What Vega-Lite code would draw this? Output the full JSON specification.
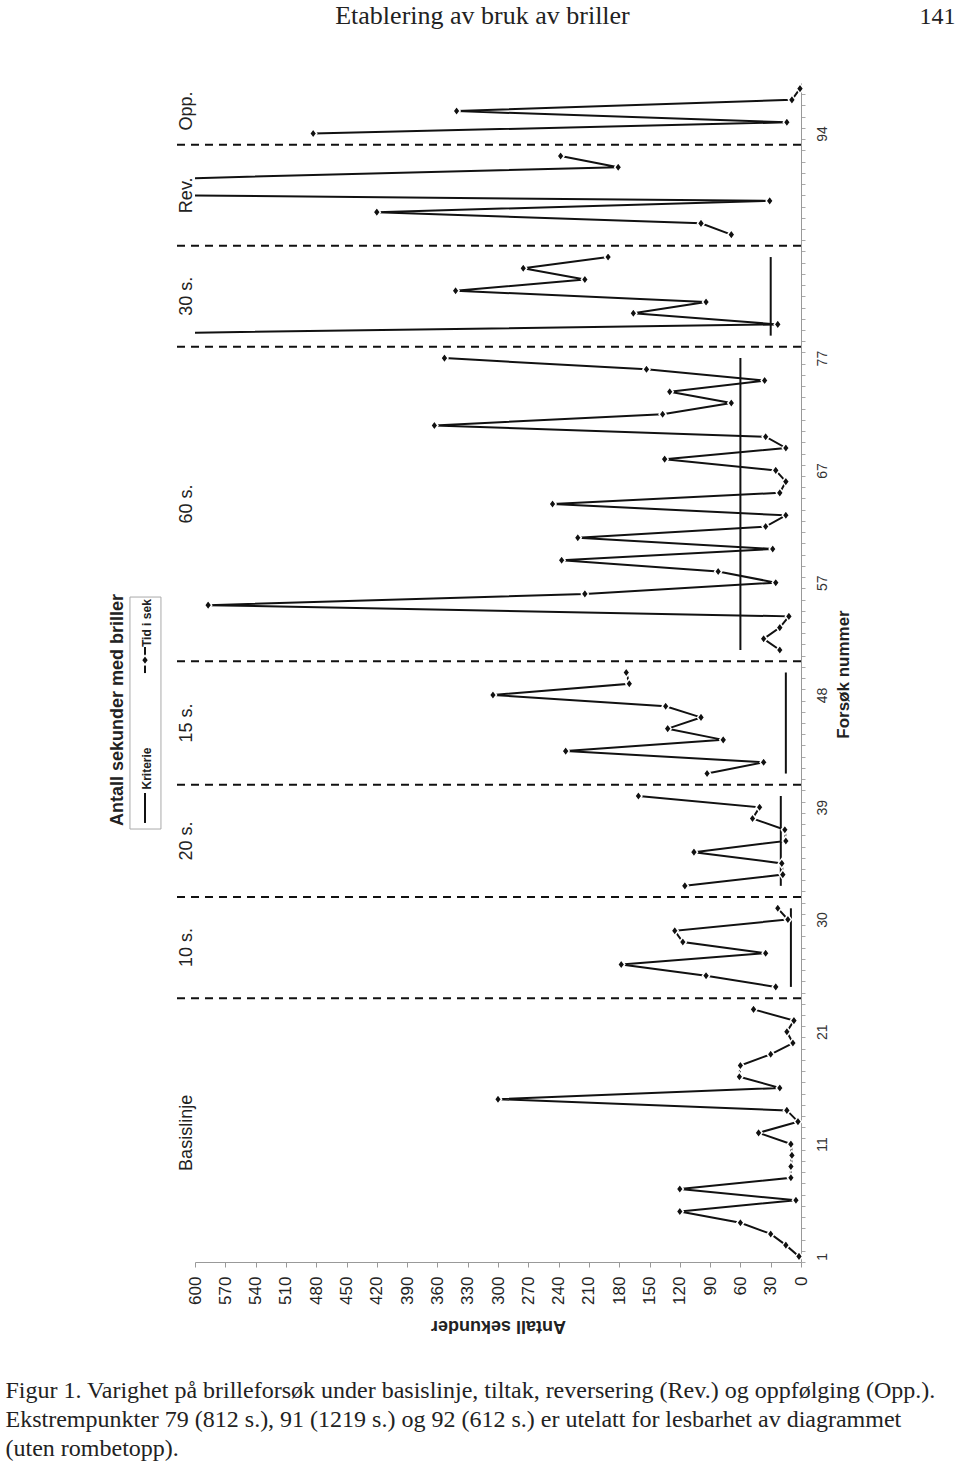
{
  "$schema": "https://vega.github.io/schema/vega-lite/v6.json",
  "width": 606,
  "height": 1179,
  "autosize": {"type": "none"},
  "padding": {"left": 195, "top": 83, "right": 159, "bottom": 207},
  "background": "white",
  "config": {"view": {"stroke": null}, "font": "Liberation Sans", "axis": {"grid": false}},
  "datasets": {
    "forsok": [
      {"kategori": 1, "fase": "Basislinje", "sek": 2, "kriterie": null},
      {"kategori": 2, "fase": "Basislinje", "sek": 15, "kriterie": null},
      {"kategori": 3, "fase": "Basislinje", "sek": 30, "kriterie": null},
      {"kategori": 4, "fase": "Basislinje", "sek": 60, "kriterie": null},
      {"kategori": 5, "fase": "Basislinje", "sek": 120, "kriterie": null},
      {"kategori": 6, "fase": "Basislinje", "sek": 5, "kriterie": null},
      {"kategori": 7, "fase": "Basislinje", "sek": 120, "kriterie": null},
      {"kategori": 8, "fase": "Basislinje", "sek": 10, "kriterie": null},
      {"kategori": 9, "fase": "Basislinje", "sek": 10, "kriterie": null},
      {"kategori": 10, "fase": "Basislinje", "sek": 9, "kriterie": null},
      {"kategori": 11, "fase": "Basislinje", "sek": 10, "kriterie": null},
      {"kategori": 12, "fase": "Basislinje", "sek": 42, "kriterie": null},
      {"kategori": 13, "fase": "Basislinje", "sek": 3, "kriterie": null},
      {"kategori": 14, "fase": "Basislinje", "sek": 14, "kriterie": null},
      {"kategori": 15, "fase": "Basislinje", "sek": 300, "kriterie": null},
      {"kategori": 16, "fase": "Basislinje", "sek": 21, "kriterie": null},
      {"kategori": 17, "fase": "Basislinje", "sek": 61, "kriterie": null},
      {"kategori": 18, "fase": "Basislinje", "sek": 60, "kriterie": null},
      {"kategori": 19, "fase": "Basislinje", "sek": 30, "kriterie": null},
      {"kategori": 20, "fase": "Basislinje", "sek": 8, "kriterie": null},
      {"kategori": 21, "fase": "Basislinje", "sek": 14, "kriterie": null},
      {"kategori": 22, "fase": "Basislinje", "sek": 7, "kriterie": null},
      {"kategori": 23, "fase": "Basislinje", "sek": 47, "kriterie": null},
      {"kategori": 25, "fase": "10 s.", "sek": 25, "kriterie": 10},
      {"kategori": 26, "fase": "10 s.", "sek": 94, "kriterie": 10},
      {"kategori": 27, "fase": "10 s.", "sek": 178, "kriterie": 10},
      {"kategori": 28, "fase": "10 s.", "sek": 35, "kriterie": 10},
      {"kategori": 29, "fase": "10 s.", "sek": 117, "kriterie": 10},
      {"kategori": 30, "fase": "10 s.", "sek": 125, "kriterie": 10},
      {"kategori": 31, "fase": "10 s.", "sek": 13, "kriterie": 10},
      {"kategori": 32, "fase": "10 s.", "sek": 23, "kriterie": 10},
      {"kategori": 34, "fase": "20 s.", "sek": 115, "kriterie": 20},
      {"kategori": 35, "fase": "20 s.", "sek": 18, "kriterie": 20},
      {"kategori": 36, "fase": "20 s.", "sek": 19, "kriterie": 20},
      {"kategori": 37, "fase": "20 s.", "sek": 106, "kriterie": 20},
      {"kategori": 38, "fase": "20 s.", "sek": 15, "kriterie": 20},
      {"kategori": 39, "fase": "20 s.", "sek": 16, "kriterie": 20},
      {"kategori": 40, "fase": "20 s.", "sek": 48, "kriterie": 20},
      {"kategori": 41, "fase": "20 s.", "sek": 41, "kriterie": 20},
      {"kategori": 42, "fase": "20 s.", "sek": 161, "kriterie": 20},
      {"kategori": 44, "fase": "15 s.", "sek": 93, "kriterie": 15},
      {"kategori": 45, "fase": "15 s.", "sek": 37, "kriterie": 15},
      {"kategori": 46, "fase": "15 s.", "sek": 233, "kriterie": 15},
      {"kategori": 47, "fase": "15 s.", "sek": 77, "kriterie": 15},
      {"kategori": 48, "fase": "15 s.", "sek": 132, "kriterie": 15},
      {"kategori": 49, "fase": "15 s.", "sek": 99, "kriterie": 15},
      {"kategori": 50, "fase": "15 s.", "sek": 134, "kriterie": 15},
      {"kategori": 51, "fase": "15 s.", "sek": 305, "kriterie": 15},
      {"kategori": 52, "fase": "15 s.", "sek": 170, "kriterie": 15},
      {"kategori": 53, "fase": "15 s.", "sek": 173, "kriterie": 15},
      {"kategori": 55, "fase": "60 s.", "sek": 21, "kriterie": 60},
      {"kategori": 56, "fase": "60 s.", "sek": 37, "kriterie": 60},
      {"kategori": 57, "fase": "60 s.", "sek": 21, "kriterie": 60},
      {"kategori": 58, "fase": "60 s.", "sek": 12, "kriterie": 60},
      {"kategori": 59, "fase": "60 s.", "sek": 587, "kriterie": 60},
      {"kategori": 60, "fase": "60 s.", "sek": 214, "kriterie": 60},
      {"kategori": 61, "fase": "60 s.", "sek": 25, "kriterie": 60},
      {"kategori": 62, "fase": "60 s.", "sek": 82, "kriterie": 60},
      {"kategori": 63, "fase": "60 s.", "sek": 237, "kriterie": 60},
      {"kategori": 64, "fase": "60 s.", "sek": 28, "kriterie": 60},
      {"kategori": 65, "fase": "60 s.", "sek": 221, "kriterie": 60},
      {"kategori": 66, "fase": "60 s.", "sek": 35, "kriterie": 60},
      {"kategori": 67, "fase": "60 s.", "sek": 15, "kriterie": 60},
      {"kategori": 68, "fase": "60 s.", "sek": 246, "kriterie": 60},
      {"kategori": 69, "fase": "60 s.", "sek": 21, "kriterie": 60},
      {"kategori": 70, "fase": "60 s.", "sek": 15, "kriterie": 60},
      {"kategori": 71, "fase": "60 s.", "sek": 25, "kriterie": 60},
      {"kategori": 72, "fase": "60 s.", "sek": 135, "kriterie": 60},
      {"kategori": 73, "fase": "60 s.", "sek": 15, "kriterie": 60},
      {"kategori": 74, "fase": "60 s.", "sek": 35, "kriterie": 60},
      {"kategori": 75, "fase": "60 s.", "sek": 363, "kriterie": 60},
      {"kategori": 76, "fase": "60 s.", "sek": 137, "kriterie": 60},
      {"kategori": 77, "fase": "60 s.", "sek": 69, "kriterie": 60},
      {"kategori": 78, "fase": "60 s.", "sek": 130, "kriterie": 60},
      {"kategori": 79, "fase": "60 s.", "sek": 36, "kriterie": 60},
      {"kategori": 80, "fase": "60 s.", "sek": 153, "kriterie": 60},
      {"kategori": 81, "fase": "60 s.", "sek": 353, "kriterie": 60},
      {"kategori": 83, "fase": "30 s.", "sek": 812, "kriterie": 30},
      {"kategori": 84, "fase": "30 s.", "sek": 23, "kriterie": 30},
      {"kategori": 85, "fase": "30 s.", "sek": 166, "kriterie": 30},
      {"kategori": 86, "fase": "30 s.", "sek": 94, "kriterie": 30},
      {"kategori": 87, "fase": "30 s.", "sek": 342, "kriterie": 30},
      {"kategori": 88, "fase": "30 s.", "sek": 214, "kriterie": 30},
      {"kategori": 89, "fase": "30 s.", "sek": 275, "kriterie": 30},
      {"kategori": 90, "fase": "30 s.", "sek": 191, "kriterie": 30},
      {"kategori": 92, "fase": "Rev.", "sek": 69, "kriterie": null},
      {"kategori": 93, "fase": "Rev.", "sek": 99, "kriterie": null},
      {"kategori": 94, "fase": "Rev.", "sek": 420, "kriterie": null},
      {"kategori": 95, "fase": "Rev.", "sek": 31, "kriterie": null},
      {"kategori": 96, "fase": "Rev.", "sek": 1219, "kriterie": null},
      {"kategori": 97, "fase": "Rev.", "sek": 612, "kriterie": null},
      {"kategori": 98, "fase": "Rev.", "sek": 181, "kriterie": null},
      {"kategori": 99, "fase": "Rev.", "sek": 238, "kriterie": null},
      {"kategori": 101, "fase": "Opp.", "sek": 483, "kriterie": null},
      {"kategori": 102, "fase": "Opp.", "sek": 14, "kriterie": null},
      {"kategori": 103, "fase": "Opp.", "sek": 341, "kriterie": null},
      {"kategori": 104, "fase": "Opp.", "sek": 9, "kriterie": null},
      {"kategori": 105, "fase": "Opp.", "sek": 1, "kriterie": null}
    ],
    "skifter": [
      {"kategori": 24}, {"kategori": 33}, {"kategori": 43}, {"kategori": 54},
      {"kategori": 82}, {"kategori": 91}, {"kategori": 100}
    ]
  },
  "data": {"name": "forsok"},
  "resolve": {"axis": {"x": "independent", "y": "independent"}},
  "layer": [
    {
      "data": {"name": "skifter"},
      "mark": {"type": "rule", "color": "#111", "strokeWidth": 2, "strokeDash": [8, 6]},
      "encoding": {
        "y": {"field": "kategori", "type": "quantitative", "scale": {"domain": [0.5, 105.5], "nice": false, "zero": false},
          "axis": {"orient": "right",
            "values": [1,2,3,4,5,6,7,8,9,10,11,12,13,14,15,16,17,18,19,20,21,22,23,24,25,26,27,28,29,30,31,32,33,34,35,36,37,38,39,40,41,42,43,44,45,46,47,48,49,50,51,52,53,54,55,56,57,58,59,60,61,62,63,64,65,66,67,68,69,70,71,72,73,74,75,76,77,78,79,80,81,82,83,84,85,86,87,88,89,90,91,92,93,94,95,96,97,98,99,100,101,102,103,104,105,106],
            "tickOffset": 5.61, "labelOffset": -5.61,
            "labelExpr": "datum.value == 1 ? '1' : datum.value == 11 ? '11' : datum.value == 21 ? '21' : datum.value == 31 ? '30' : datum.value == 41 ? '39' : datum.value == 51 ? '48' : datum.value == 61 ? '57' : datum.value == 71 ? '67' : datum.value == 81 ? '77' : datum.value == 101 ? '94' : ''",
            "labelAngle": 270, "labelAlign": "center", "labelBaseline": "top", "labelFontSize": 14, "labelColor": "#333",
            "labelPadding": 10, "labelFlush": false, "labelOverlap": false, "tickSize": 4, "tickColor": "#aaa", "domainColor": "#999",
            "title": "Forsøk nummer", "titleFontSize": 17, "titleFontWeight": "bold", "titleColor": "#222", "titleAngle": 270,
            "titleX": 47, "titleY": 591, "titleAlign": "center", "titleBaseline": "alphabetic"}},
        "x": {"datum": 0, "type": "quantitative", "scale": {"domain": [0, 600], "reverse": true, "nice": false, "zero": false},
          "axis": {"orient": "top", "labels": false, "ticks": false, "domain": false, "title": "141",
            "titleX": 760, "titleY": -59.5, "titleAlign": "right", "titleBaseline": "alphabetic", "titleAngle": 0,
            "titleFont": "Liberation Serif", "titleFontSize": 24, "titleFontWeight": "normal", "titleColor": "#222", "titleLimit": 1000}},
        "x2": {"datum": 618}
      }
    },
    {
      "transform": [{"filter": "isValid(datum.kriterie)"}],
      "mark": {"type": "rule", "color": "#111", "strokeWidth": 2},
      "encoding": {
        "x": {"field": "kriterie", "type": "quantitative",
          "axis": {"orient": "top", "labels": false, "ticks": false, "domain": false, "title": "Etablering av bruk av briller",
            "titleX": 287, "titleY": -59.5, "titleAlign": "center", "titleBaseline": "alphabetic", "titleAngle": 0,
            "titleFont": "Liberation Serif", "titleFontSize": 26, "titleFontWeight": "normal", "titleColor": "#222", "titleLimit": 1000}},
        "y": {"aggregate": "min", "field": "kategori", "type": "quantitative", "axis": null},
        "y2": {"aggregate": "max", "field": "kategori"},
        "detail": {"field": "fase"}
      }
    },
    {
      "mark": {"type": "line", "clip": true, "color": "#111", "strokeWidth": 2},
      "encoding": {
        "x": {"field": "sek", "type": "quantitative",
          "axis": {"orient": "bottom", "values": [0, 30, 60, 90, 120, 150, 180, 210, 240, 270, 300, 330, 360, 390, 420, 450, 480, 510, 540, 570, 600],
            "labelAngle": 270, "labelAlign": "right", "labelBaseline": "middle", "labelFontSize": 17, "labelColor": "#222",
            "labelPadding": 9, "labelFlush": false, "labelOverlap": false, "tickSize": 5, "tickColor": "#999", "domainColor": "#999",
            "title": "Antall sekunder", "titleFontSize": 18, "titleFontWeight": "bold", "titleColor": "#222", "titleAngle": 180,
            "titleX": 303, "titleY": 63, "titleAlign": "center", "titleBaseline": "middle"}},
        "y": {"field": "kategori", "type": "quantitative", "axis": null},
        "detail": {"field": "fase"},
        "order": {"field": "kategori"}
      }
    },
    {
      "transform": [{"filter": "datum.sek <= 600"}],
      "mark": {"type": "point", "shape": "M0,-1L0.75,0L0,1L-0.75,0Z", "filled": true, "fill": "#111", "stroke": "white", "strokeWidth": 1.5, "size": 90, "opacity": 1},
      "encoding": {
        "x": {"field": "sek", "type": "quantitative",
          "axis": {"orient": "bottom", "labels": false, "ticks": false, "domain": false,
            "title": ["Figur 1. Varighet på brilleforsøk under basislinje, tiltak, reversering (Rev.) og oppfølging (Opp.).", "Ekstrempunkter 79 (812 s.), 91 (1219 s.) og 92 (612 s.) er utelatt for lesbarhet av diagrammet", "(uten rombetopp)."],
            "titleX": -190, "titleY": 135, "titleAlign": "left", "titleBaseline": "alphabetic", "titleAngle": 0, "titleLineHeight": 29,
            "titleFont": "Liberation Serif", "titleFontSize": 24, "titleFontWeight": "normal", "titleColor": "#222", "titleLimit": 2000}},
        "y": {"field": "kategori", "type": "quantitative", "axis": null}
      }
    },
    {
      "mark": {"type": "text", "angle": 270, "align": "center", "baseline": "alphabetic", "fontSize": 18, "color": "#222"},
      "encoding": {
        "x": {"datum": 603, "type": "quantitative", "axis": null},
        "y": {"aggregate": "mean", "field": "kategori", "type": "quantitative", "axis": null},
        "text": {"field": "fase"}
      }
    },
    {
      "data": {"values": [{}]},
      "mark": {"type": "rect", "fill": "white", "stroke": "#aaa", "strokeWidth": 1},
      "encoding": {
        "x": {"datum": 633.7, "type": "quantitative", "axis": null},
        "x2": {"datum": 664.4},
        "y": {"datum": 39.06, "type": "quantitative", "axis": null},
        "y2": {"datum": 59.72}
      }
    },
    {
      "data": {"values": [{}]},
      "mark": {"type": "text", "text": "Antall sekunder med briller", "angle": 270, "align": "center", "baseline": "alphabetic", "fontSize": 18, "fontWeight": "bold", "color": "#222"},
      "encoding": {
        "x": {"datum": 670.8, "type": "quantitative", "axis": null},
        "y": {"datum": 49.66, "type": "quantitative", "axis": null}
      }
    },
    {
      "data": {"values": [{}]},
      "mark": {"type": "rule", "color": "#111", "strokeWidth": 2},
      "encoding": {
        "x": {"datum": 649.5, "type": "quantitative", "axis": null},
        "y": {"datum": 39.6, "type": "quantitative", "axis": null},
        "y2": {"datum": 42.27}
      }
    },
    {
      "data": {"values": [{}]},
      "mark": {"type": "text", "text": "Kriterie", "angle": 270, "align": "center", "baseline": "alphabetic", "fontSize": 12, "fontWeight": "bold", "color": "#222"},
      "encoding": {
        "x": {"datum": 644, "type": "quantitative", "axis": null},
        "y": {"datum": 44.45, "type": "quantitative", "axis": null}
      }
    },
    {
      "data": {"values": [{}]},
      "mark": {"type": "rule", "color": "#111", "strokeWidth": 2},
      "encoding": {
        "x": {"datum": 649.5, "type": "quantitative", "axis": null},
        "y": {"datum": 52.95, "type": "quantitative", "axis": null},
        "y2": {"datum": 55.27}
      }
    },
    {
      "data": {"values": [{}]},
      "mark": {"type": "point", "shape": "M0,-1L0.75,0L0,1L-0.75,0Z", "filled": true, "fill": "#111", "stroke": "white", "strokeWidth": 1.5, "size": 90, "opacity": 1},
      "encoding": {
        "x": {"datum": 649.5, "type": "quantitative", "axis": null},
        "y": {"datum": 54.1, "type": "quantitative", "axis": null}
      }
    },
    {
      "data": {"values": [{}]},
      "mark": {"type": "text", "text": "Tid i sek", "angle": 270, "align": "center", "baseline": "alphabetic", "fontSize": 12, "fontWeight": "bold", "color": "#222"},
      "encoding": {
        "x": {"datum": 644, "type": "quantitative", "axis": null},
        "y": {"datum": 57.4, "type": "quantitative", "axis": null}
      }
    }
  ]
}
